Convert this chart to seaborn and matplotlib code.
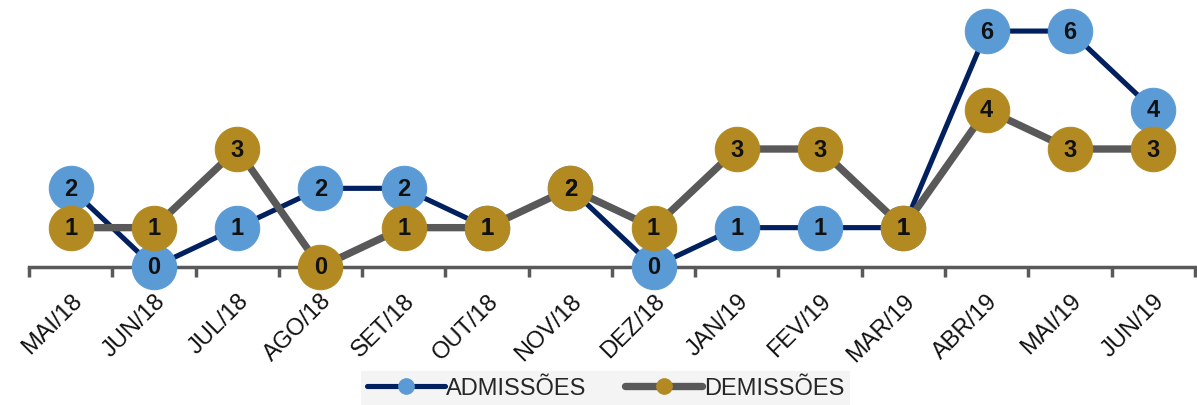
import matplotlib
matplotlib.use("Agg")
import matplotlib.pyplot as plt
import seaborn as sns
from matplotlib.lines import Line2D

# Data
months = ["MAI/18", "JUN/18", "JUL/18", "AGO/18", "SET/18", "OUT/18", "NOV/18",
          "DEZ/18", "JAN/19", "FEV/19", "MAR/19", "ABR/19", "MAI/19", "JUN/19"]
admissoes = [2, 0, 1, 2, 2, 1, 2, 0, 1, 1, 1, 6, 6, 4]
demissoes = [1, 1, 3, 0, 1, 1, 2, 1, 3, 3, 1, 4, 3, 3]

sns.set_style("white")
plt.rcParams["font.family"] = ["Liberation Sans", "DejaVu Sans"]

navy, blue = "#002060", "#5B9BD5"
grey, gold = "#595959", "#B38A22"

fig = plt.figure(figsize=(11.97, 4.06), dpi=100)
ax = fig.add_axes([0.0242, 0.340, 0.974, 0.581])

x = list(range(len(months)))
series = [("ADMISSÕES", admissoes, navy, blue, 3.7),
          ("DEMISSÕES", demissoes, grey, gold, 5.3)]
for name, vals, lc, mc, lw in series:
    sns.lineplot(x=x, y=vals, ax=ax, color=lc, linewidth=lw, marker="o",
                 markersize=32, markerfacecolor=mc, markeredgecolor=mc,
                 clip_on=False, zorder=3)
    for xi, v in zip(x, vals):
        ax.text(xi, v, str(v), ha="center", va="center", fontsize=17,
                fontweight="bold", color="#111111", zorder=4)

ax.set_xlim(-0.5, len(months) - 0.5)
ax.set_ylim(0, 6)
ax.set_yticks([])
ax.set_xticks(x)
ax.set_xticklabels(months, rotation=45, ha="right", rotation_mode="anchor",
                   fontsize=17, color="#111111")
ax.set_xticks([i - 0.5 for i in range(len(months) + 1)], minor=True)
ax.tick_params(axis="x", which="major", bottom=False, length=0, pad=16)
ax.tick_params(axis="x", which="minor", bottom=True, length=7, width=2.5,
               color=grey, direction="out")
for s in ["top", "right", "left"]:
    ax.spines[s].set_visible(False)
ax.spines["bottom"].set_color(grey)
ax.spines["bottom"].set_linewidth(2.5)

handles = [Line2D([], [], color=lc, linewidth=lw, marker="o", markersize=11,
                  markerfacecolor=mc, markeredgecolor=mc)
           for _, _, lc, mc, lw in series]
leg = fig.legend(handles, [s[0] for s in series], loc="center",
                 bbox_to_anchor=(0.506, 0.042), ncol=2, frameon=True,
                 fancybox=False, fontsize=17, handlelength=3.3,
                 handletextpad=0.05, columnspacing=1.6, borderpad=0.25)
leg.get_frame().set_facecolor("#F2F2F2")
leg.get_frame().set_edgecolor("none")

fig.savefig("out.png", dpi=100)
